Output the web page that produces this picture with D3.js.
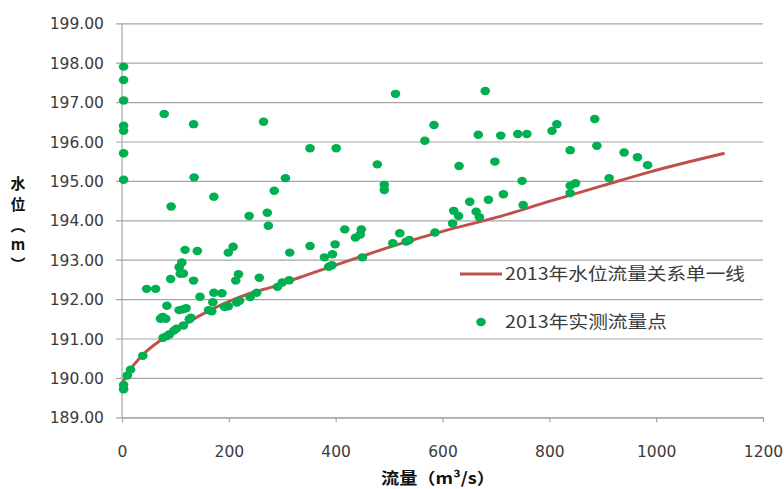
<!DOCTYPE html>
<html>
<head>
<meta charset="utf-8">
<script src="https://cdn.jsdelivr.net/npm/d3@7/dist/d3.min.js"></script>
<style>
  html, body { margin: 0; padding: 0; background: #fff; }
  svg { display: block; }
</style>
</head>
<body>
<svg id="chart" width="784" height="489"></svg>
<script>
// Rating curve for 2013 (discharge m³/s, stage m)
const curveQ = [0, 15, 40, 77, 120, 165, 220, 290, 360, 430, 520, 600, 708, 800, 900, 989, 1128];
const curveZ = [189.85, 190.2, 190.6, 191.0, 191.38, 191.72, 192.05, 192.35, 192.68, 193.0, 193.4, 193.72, 194.1, 194.48, 194.88, 195.23, 195.70];

// Measured discharge points, 2013
const measuredQ = [
  3, 3, 3, 3, 3, 3, 3, 3, 3,
  10, 16, 39, 46, 63, 72, 76, 82, 77, 84, 89, 97, 102, 115, 126, 129,
  84, 91, 107, 114, 120, 109, 115, 107, 112, 118, 141, 134, 146, 162, 168,
  170, 172, 187, 192, 199, 215, 220, 240, 252, 213, 218, 199, 208, 257,
  79, 134, 265, 352, 401, 135, 92,
  172, 238, 272, 274, 285, 306, 314, 352, 379, 394, 399, 417, 437, 446, 448,
  387, 393, 291, 300, 313,
  450, 478, 491, 491, 512, 507, 520, 532, 538, 567, 584, 586, 619, 621, 630,
  631, 651, 663, 669, 667, 680, 686, 698, 709, 714, 741, 758, 749, 751,
  805, 814, 839, 839, 849, 839, 885, 889, 912, 940, 965, 984
];
const measuredZ = [
  197.90, 197.56, 197.04, 196.40, 196.27, 195.70, 195.03, 189.82, 189.71,
  190.06, 190.21, 190.56, 192.26, 192.26, 191.50, 191.55, 191.50, 191.02, 191.06, 191.11, 191.20, 191.25, 191.33, 191.49, 191.53,
  191.83, 192.51, 191.72, 191.74, 191.77, 192.64, 192.65, 192.81, 192.93, 193.25, 193.22, 192.47, 192.06, 191.72, 191.69,
  191.92, 192.16, 192.15, 191.80, 191.82, 191.91, 191.96, 192.05, 192.16, 192.47, 192.63, 193.18, 193.33, 192.54,
  196.70, 196.44, 196.50, 195.83, 195.83, 195.09, 194.35,
  194.60, 194.11, 194.19, 193.86, 194.75, 195.07, 193.18, 193.35, 193.06, 193.14, 193.39, 193.77, 193.56, 193.64, 193.77,
  192.82, 192.86, 192.31, 192.42, 192.48,
  193.06, 195.42, 194.90, 194.77, 197.21, 193.42, 193.67, 193.46, 193.50, 196.02, 196.42, 193.69, 193.92, 194.24, 194.11,
  195.38, 194.47, 194.22, 194.08, 196.17, 197.28, 194.52, 195.49, 196.15, 194.66, 196.19, 196.19, 195.00, 194.39,
  196.27, 196.44, 195.78, 194.88, 194.94, 194.69, 196.57, 195.89, 195.07, 195.72, 195.60, 195.40
];

const xTicks = [0, 200, 400, 600, 800, 1000, 1200];
const yTicks = [189, 190, 191, 192, 193, 194, 195, 196, 197, 198, 199];

const legendLabels = ["2013年水位流量关系单一线", "2013年实测流量点"];
const xTitle = "流量（m³/s）";
const yTitleChars = ["水", "位", "︵", "m", "︶"];

const RED = "#c0504d", GREEN = "#00b050", GRID = "#a6a6a6", TEXT = "#3b3b3b";

const svg = d3.select("#chart");
const x = d3.scaleLinear().domain([0, 1200]).range([122, 763]);
const y = d3.scaleLinear().domain([189, 199]).range([417.3, 23.3]);

// horizontal gridlines with left tick marks
const yAxis = d3.axisLeft(y).tickValues(yTicks).tickSize(-(763 - 116)).tickSizeOuter(0)
  .tickFormat(d3.format(".2f"));
const gy = svg.append("g").attr("transform", "translate(116,0)").call(yAxis);
gy.select(".domain").remove();
gy.selectAll(".tick line").attr("stroke", GRID).attr("stroke-width", 1.2);
gy.selectAll(".tick text")
  .attr("x", -12)
  .attr("fill", TEXT)
  .style("font-family", "'DejaVu Sans', Verdana, sans-serif")
  .style("font-size", "15.5px")
  .attr("dy", "0.36em");

// vertical axis line
svg.append("line")
  .attr("x1", x(0)).attr("x2", x(0))
  .attr("y1", y(199)).attr("y2", y(189))
  .attr("stroke", GRID).attr("stroke-width", 1.2);

// x axis
const xAxis = d3.axisBottom(x).tickValues(xTicks).tickSize(5).tickSizeOuter(0)
  .tickFormat(d3.format("d"));
const gx = svg.append("g").attr("transform", `translate(0,${y(189)})`).call(xAxis);
gx.select(".domain").attr("stroke", GRID).attr("stroke-width", 1.2);
gx.selectAll(".tick line").attr("stroke", GRID).attr("stroke-width", 1.2);
gx.selectAll(".tick text")
  .attr("fill", TEXT)
  .style("font-family", "'DejaVu Sans', Verdana, sans-serif")
  .style("font-size", "15.5px")
  .attr("dy", "0")
  .attr("y", 40);

// rating curve
const curvePts = curveQ.map((q, i) => [q, curveZ[i]]);
svg.append("path")
  .datum(curvePts)
  .attr("fill", "none")
  .attr("stroke", RED)
  .attr("stroke-width", 3)
  .attr("d", d3.line().x(d => x(d[0])).y(d => y(d[1])).curve(d3.curveMonotoneX));

// measured points
const pts = measuredQ.map((q, i) => [q, measuredZ[i]]);
svg.append("g").selectAll("ellipse")
  .data(pts).join("ellipse")
  .attr("cx", d => x(d[0]))
  .attr("cy", d => y(d[1]))
  .attr("rx", 4.8).attr("ry", 4.2)
  .attr("fill", GREEN);

// legend
const lg = svg.append("g");
lg.append("line").attr("x1", 460).attr("x2", 502).attr("y1", 274).attr("y2", 274)
  .attr("stroke", RED).attr("stroke-width", 3);
lg.append("text").attr("x", 505).attr("y", 280)
  .attr("textLength", 240).attr("lengthAdjust", "spacingAndGlyphs")
  .attr("fill", TEXT)
  .style("font-family", "'Noto Sans CJK SC', sans-serif").style("font-size", "17px")
  .text(legendLabels[0]);
lg.append("ellipse").attr("cx", 481).attr("cy", 322).attr("rx", 4.8).attr("ry", 4.2).attr("fill", GREEN);
lg.append("text").attr("x", 505).attr("y", 328)
  .attr("textLength", 162).attr("lengthAdjust", "spacingAndGlyphs")
  .attr("fill", TEXT)
  .style("font-family", "'Noto Sans CJK SC', sans-serif").style("font-size", "17px")
  .text(legendLabels[1]);

// axis titles
svg.append("text").attr("x", 381).attr("y", 484)
  .attr("textLength", 114).attr("lengthAdjust", "spacingAndGlyphs")
  .attr("fill", "#111")
  .style("font-family", "'Noto Sans CJK SC', sans-serif").style("font-size", "16px").style("font-weight", "bold")
  .text(xTitle);

const yTitlePos = [184, 205, 226, 245, 265];
svg.append("g").selectAll("text")
  .data(yTitleChars).join("text")
  .attr("x", 18)
  .attr("y", (d, i) => yTitlePos[i])
  .attr("text-anchor", "middle")
  .attr("dy", "0.36em")
  .attr("fill", "#111")
  .style("font-family", "'Noto Sans CJK SC', sans-serif").style("font-size", "15px").style("font-weight", "bold")
  .text(d => d);
</script>
</body>
</html>
